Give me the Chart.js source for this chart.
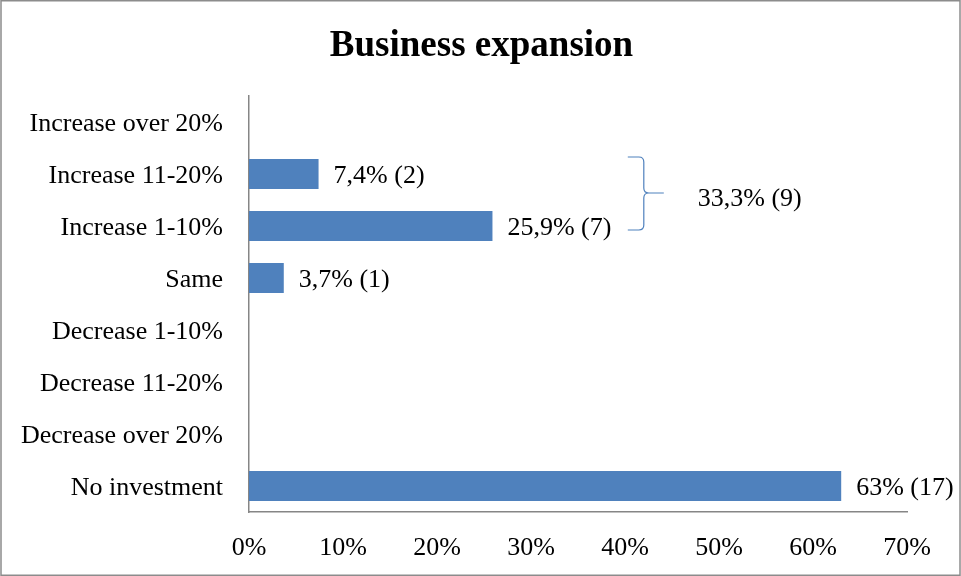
<!DOCTYPE html>
<html>
<head>
<meta charset="utf-8">
<script src="https://cdn.jsdelivr.net/npm/chart.js@4"></script>
<style>
  html, body { margin: 0; padding: 0; background: #fff; }
  #wrap { position: relative; width: 961px; height: 576px; }
  canvas { display: block; }
</style>
</head>
<body>
<div id="wrap"><canvas id="c" width="961" height="576"></canvas></div>
<script>
// Survey answers: change in business expansion
const categories = [
  'Increase over 20%',
  'Increase 11-20%',
  'Increase 1-10%',
  'Same',
  'Decrease 1-10%',
  'Decrease 11-20%',
  'Decrease over 20%',
  'No investment'
];
const shares = [0, 7.4, 25.9, 3.7, 0, 0, 0, 63];   // percent of respondents
const counts = [0, 2, 7, 1, 0, 0, 0, 17];          // number of respondents
const xTicks = [0, 10, 20, 30, 40, 50, 60, 70];
const chartTitle = 'Business expansion';

// Grouped answers marked with a brace
const groupIndexes = [1, 2];
const groupShare = 33.3;
const groupCount = 9;

const SERIF = "'Liberation Serif', 'Times New Roman', serif";
const fmtPct = v => String(v).replace('.', ',') + '%';

// Title centred over the whole figure
const figureTitle = {
  id: 'figureTitle',
  afterDraw(chart) {
    const ctx = chart.ctx;
    ctx.save();
    ctx.font = 'bold 37px ' + SERIF;
    ctx.fillStyle = '#000';
    ctx.textAlign = 'center';
    ctx.textBaseline = 'alphabetic';
    ctx.fillText(chartTitle, chart.width / 2 + 1, 56);
    ctx.restore();
  }
};

// Value labels to the right of each non-empty bar
const valueLabels = {
  id: 'valueLabels',
  afterDatasetsDraw(chart) {
    const ctx = chart.ctx;
    const meta = chart.getDatasetMeta(0);
    ctx.save();
    ctx.font = '26px ' + SERIF;
    ctx.fillStyle = '#000';
    ctx.textAlign = 'left';
    ctx.textBaseline = 'middle';
    meta.data.forEach((bar, i) => {
      if (!shares[i]) return;
      ctx.fillText(fmtPct(shares[i]) + ' (' + counts[i] + ')', bar.x + 15, bar.y + 2);
    });
    ctx.restore();
  }
};

// Curly brace joining the two "increase" rows, with their combined total
const groupBrace = {
  id: 'groupBrace',
  afterDatasetsDraw(chart) {
    const ctx = chart.ctx;
    const y = chart.scales.y, x = chart.scales.x;
    const yTop = y.getPixelForValue(groupIndexes[0]) - 17;
    const yBot = y.getPixelForValue(groupIndexes[groupIndexes.length - 1]) + 4;
    const yMid = (yTop + yBot) / 2 - 0.5;
    const bx = x.getPixelForValue(42);
    const r = 5;
    ctx.save();
    ctx.strokeStyle = '#4F81BD';
    ctx.lineWidth = 1.2;
    ctx.beginPath();
    ctx.moveTo(bx - 16, yTop);
    ctx.lineTo(bx - r, yTop);
    ctx.quadraticCurveTo(bx, yTop, bx, yTop + r);
    ctx.lineTo(bx, yMid - r);
    ctx.quadraticCurveTo(bx, yMid, bx + r, yMid);
    ctx.lineTo(bx + 20, yMid);
    ctx.moveTo(bx + r, yMid);
    ctx.quadraticCurveTo(bx, yMid, bx, yMid + r);
    ctx.lineTo(bx, yBot - r);
    ctx.quadraticCurveTo(bx, yBot, bx - r, yBot);
    ctx.lineTo(bx - 16, yBot);
    ctx.stroke();

    ctx.font = '26px ' + SERIF;
    ctx.fillStyle = '#000';
    ctx.textAlign = 'left';
    ctx.textBaseline = 'middle';
    ctx.fillText(fmtPct(groupShare) + ' (' + groupCount + ')', bx + 54, yMid + 6);
    ctx.restore();
  }
};

// Thin frame around the whole figure
const frame = {
  id: 'frame',
  afterDraw(chart) {
    const ctx = chart.ctx;
    ctx.save();
    ctx.strokeStyle = '#8c8c8c';
    ctx.lineWidth = 1.5;
    ctx.strokeRect(1, 0.75, chart.width - 2, chart.height - 1.5);
    ctx.restore();
  }
};

new Chart(document.getElementById('c'), {
  type: 'bar',
  data: {
    labels: categories,
    datasets: [{
      data: shares,
      backgroundColor: '#4F81BD',
      borderWidth: 0,
      categoryPercentage: 1,
      barPercentage: 0.58
    }]
  },
  options: {
    indexAxis: 'y',
    responsive: false,
    animation: false,
    layout: { padding: { top: 96, right: 54, bottom: 0, left: 0 } },
    plugins: {
      legend: { display: false },
      tooltip: { enabled: false },
      title: { display: false }
    },
    scales: {
      x: {
        min: 0,
        max: 70,
        afterBuildTicks(scale) { scale.ticks = xTicks.map(v => ({ value: v })); },
        afterFit(scale) { scale.height = 64; },
        grid: { display: false, drawTicks: false },
        border: { display: true, color: '#868686', width: 1.5 },
        ticks: {
          color: '#000',
          font: { family: SERIF, size: 26 },
          padding: 21,
          maxRotation: 0,
          callback: v => v + '%'
        }
      },
      y: {
        afterFit(scale) { scale.width = 249; },
        grid: { display: false, drawTicks: false },
        border: { display: true, color: '#868686', width: 1.5 },
        ticks: {
          color: '#000',
          font: { family: SERIF, size: 26 },
          padding: 26,
          labelOffset: 2,
          autoSkip: false
        }
      }
    }
  },
  plugins: [valueLabels, groupBrace, figureTitle, frame]
});
</script>
</body>
</html>
